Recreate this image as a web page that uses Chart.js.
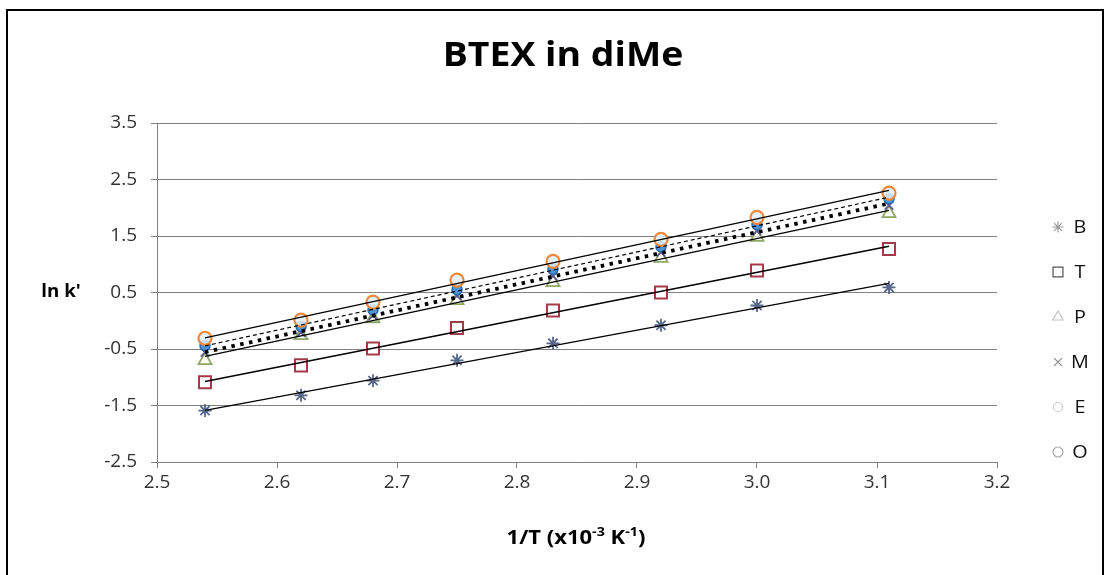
<!DOCTYPE html>
<html>
<head>
<meta charset="utf-8">
<title>BTEX in diMe</title>
<script src="https://cdn.jsdelivr.net/npm/chart.js@4.4.1/dist/chart.umd.min.js"></script>
<style>
  html, body { margin: 0; padding: 0; background: #fff; overflow: hidden; }
  #wrap { position: relative; width: 1108px; height: 575px; }
  #c { position: absolute; left: 0; top: 0; }
  #frame { position: absolute; left: 6px; top: 9px; width: 1094px; height: 620px;
           border: 2px solid #000; pointer-events: none; }
</style>
</head>
<body>
<div id="wrap">
  <canvas id="c" width="1108" height="575"></canvas>
  <div id="frame"></div>
</div>
<script>
// 1/T values (x10^-3 K^-1) shared by every series
const invT = [2.54, 2.62, 2.68, 2.75, 2.83, 2.92, 3.00, 3.11];

// ln k' per compound
const lnB = [-1.59, -1.32, -1.06, -0.70, -0.40, -0.08, 0.27, 0.59];
const lnT = [-1.09, -0.79, -0.49, -0.13, 0.18, 0.50, 0.89, 1.27];
const lnP = [-0.70, -0.26, 0.04, 0.36, 0.68, 1.11, 1.48, 1.90];
const lnM = [-0.56, -0.21, 0.09, 0.44, 0.79, 1.21, 1.59, 2.04];
const lnE = [-0.44, -0.10, 0.19, 0.55, 0.91, 1.31, 1.70, 2.16];
const lnO = [-0.31, 0.01, 0.33, 0.72, 1.05, 1.44, 1.83, 2.26];

const seriesNames = ['B', 'T', 'P', 'M', 'E', 'O'];

// axis ticks
const xTicks = [2.5, 2.6, 2.7, 2.8, 2.9, 3.0, 3.1, 3.2];
const yTicks = [-2.5, -1.5, -0.5, 0.5, 1.5, 2.5, 3.5];

const FONT = '"Open Sans", "Liberation Sans", sans-serif';

function pts(xs, ys) { return xs.map((x, i) => ({ x: x, y: ys[i] })); }

// least-squares straight line, evaluated at the first and last x
function linearFit(xs, ys) {
  const n = xs.length;
  const mx = xs.reduce((a, b) => a + b, 0) / n;
  const my = ys.reduce((a, b) => a + b, 0) / n;
  let sxy = 0, sxx = 0;
  for (let i = 0; i < n; i++) { sxy += (xs[i] - mx) * (ys[i] - my); sxx += (xs[i] - mx) ** 2; }
  const b = sxy / sxx, a = my - b * mx;
  return [xs[0], xs[n - 1]].map(x => ({ x: x, y: a + b * x }));
}

const markerStyles = [
  { pointStyle: 'star',     radius: 6.5, border: '#56678A', fill: '#56678A', bw: 1.8 },
  { pointStyle: 'rect',     radius: 8.5, border: '#A43B4A', fill: '#ffffff', bw: 2 },
  { pointStyle: 'triangle', radius: 7.5, border: '#8FA765', fill: 'rgba(255,255,255,0.6)', bw: 1.8 },
  { pointStyle: 'crossRot', radius: 6,   border: '#5F5A92', fill: '#5F5A92', bw: 1.8 },
  { pointStyle: 'circle',   radius: 5,   border: '#2A6BB5', fill: '#4F93D2', bw: 1.5 },
  { pointStyle: 'circle',   radius: 6.5, border: '#F08A3A', fill: 'rgba(225,238,250,0.85)', bw: 2.2 }
];
const legendStyles = [
  { color: '#9A9A9A', bw: 1.2, radius: 5.5 },
  { color: '#555555', bw: 1.2, radius: 7 },
  { color: '#C4C4C4', bw: 1.2, radius: 6 },
  { color: '#8A8A8A', bw: 1.2, radius: 5.5 },
  { color: '#CDCDCD', bw: 1.2, radius: 4.5 },
  { color: '#A8A8A8', bw: 1.2, radius: 5 }
];
const trendDash = [[], [], [], [3.5, 5.5], [4, 3], []];
const trendWidth = [1.3, 1.6, 1.4, 3.8, 1.2, 1.4];

const allY = [lnB, lnT, lnP, lnM, lnE, lnO];

const datasets = [];
allY.forEach((ys, i) => {
  const m = markerStyles[i];
  datasets.push({
    label: seriesNames[i],
    data: pts(invT, ys),
    showLine: false,
    pointStyle: m.pointStyle,
    pointRadius: m.radius,
    pointBorderColor: m.border,
    pointBackgroundColor: m.fill,
    pointBorderWidth: m.bw,
    order: 10 - i
  });
});
allY.forEach((ys, i) => {
  datasets.push({
    label: seriesNames[i] + ' trend',
    data: linearFit(invT, ys),
    showLine: true,
    pointRadius: 0,
    borderColor: '#000',
    borderWidth: trendWidth[i],
    borderDash: trendDash[i],
    order: 0
  });
});

// drawn text: title, axis titles and legend
const textPlugin = {
  id: 'chartTexts',
  afterDraw(chart) {
    const ctx = chart.ctx;
    const ys = chart.scales.y, xs = chart.scales.x;
    const sx = 1.1;

    function stretched(text, cx, cy, font, color) {
      ctx.save();
      ctx.font = font; ctx.fillStyle = color;
      ctx.textAlign = 'center'; ctx.textBaseline = 'middle';
      ctx.translate(cx, cy); ctx.scale(sx, 1);
      ctx.fillText(text, 0, 0);
      ctx.restore();
    }

    // chart title
    stretched('BTEX in diMe', 563, 56, 'bold 34px ' + FONT, '#000');

    // y-axis title, written horizontally beside the 0.5 tick
    stretched("ln k'", 61, ys.getPixelForValue(0.5), 'bold 17px ' + FONT, '#000');

    // x-axis title with superscripts
    const parts = [['1/T (x10', false], ['-3', true], [' K', false], ['-1', true], [')', false]];
    const big = 'bold 20px ' + FONT, small = 'bold 13px ' + FONT;
    ctx.save();
    let total = 0;
    parts.forEach(p => { ctx.font = p[1] ? small : big; total += ctx.measureText(p[0]).width; });
    const cx = (xs.left + xs.right) / 2 - 1, cy = 537;
    ctx.translate(cx, cy); ctx.scale(sx, 1);
    let x = -total / 2;
    ctx.fillStyle = '#000'; ctx.textAlign = 'left'; ctx.textBaseline = 'alphabetic';
    parts.forEach(p => {
      ctx.font = p[1] ? small : big;
      ctx.fillText(p[0], x, p[1] ? -1 : 7);
      x += ctx.measureText(p[0]).width;
    });
    ctx.restore();

    // legend
    const lx = 1058, ly0 = 227, step = 45;
    seriesNames.forEach((name, i) => {
      const y = ly0 + i * step;
      const ls = legendStyles[i];
      ctx.save();
      ctx.strokeStyle = ls.color;
      ctx.fillStyle = i === 3 || i === 0 ? ls.color : 'rgba(255,255,255,0)';
      ctx.lineWidth = ls.bw;
      Chart.helpers.drawPoint(ctx, { pointStyle: markerStyles[i].pointStyle, radius: ls.radius, rotation: 0, borderWidth: ls.bw }, lx, y);
      ctx.restore();
      stretched(name, 1080, y + 1, '18px ' + FONT, '#111');
    });
  }
};

new Chart(document.getElementById('c'), {
  type: 'scatter',
  data: { datasets: datasets },
  plugins: [textPlugin],
  options: {
    responsive: false,
    animation: false,
    layout: { padding: { left: 0, top: 123, right: 111, bottom: 83 } },
    plugins: { legend: { display: false }, title: { display: false }, tooltip: { enabled: false } },
    scales: {
      x: {
        type: 'linear', min: 2.5, max: 3.2,
        afterBuildTicks: s => { s.ticks = xTicks.map(v => ({ value: v })); },
        afterFit: s => { s.height = 30; },
        grid: { drawOnChartArea: false, drawTicks: true, tickLength: 6, color: '#808080' },
        border: { display: true, color: '#808080', width: 1 },
        ticks: { color: '#333', padding: 3, maxRotation: 0, font: { family: FONT, size: 19 },
                 callback: v => Number(v).toFixed(1) }
      },
      y: {
        type: 'linear', min: -2.5, max: 3.5,
        afterBuildTicks: s => { s.ticks = yTicks.map(v => ({ value: v })); },
        afterFit: s => { s.width = 157; },
        grid: { drawTicks: true, tickLength: 6, color: '#808080' },
        border: { display: true, color: '#808080', width: 1 },
        ticks: { color: '#333', padding: 14, font: { family: FONT, size: 19 },
                 callback: v => Number(v).toFixed(1) }
      }
    }
  }
});
</script>
</body>
</html>
